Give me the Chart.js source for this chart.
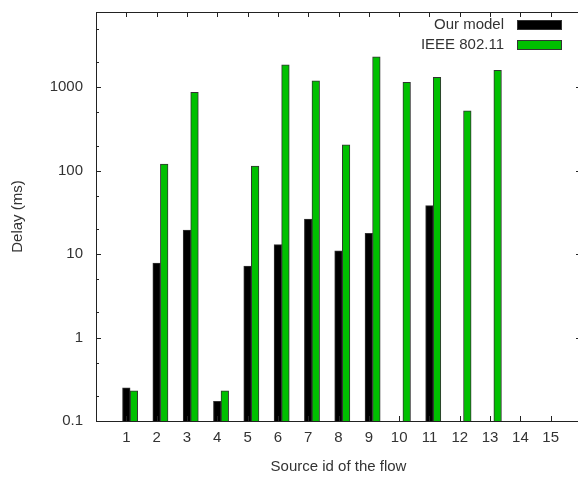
<!DOCTYPE html>
<html>
<head>
<meta charset="utf-8">
<script src="https://cdn.jsdelivr.net/npm/chart.js@4"></script>
<style>
  html, body { margin: 0; padding: 0; background: #fff; overflow: hidden; }
  #wrap { width: 590px; height: 478px; position: relative; }
</style>
</head>
<body>
<div id="wrap"><canvas id="delay-graph"></canvas></div>
<script>
// source ids on the x axis
const categories = [1, 2, 3, 4, 5, 6, 7, 8, 9, 10, 11, 12, 13, 14, 15];
// delay values (ms), null = no bar
const ourModel = [0.25, 7.8, 19.5, 0.172, 7.2, 13.0, 26.4, 11.0, 17.8, null, 38.2, null, null, null, null];
const ieee = [0.23, 120, 873, 0.23, 114, 1857, 1193, 205, 2315, 1151, 1321, 521, 1604, null, null];
const seriesNames = ['Our model', 'IEEE 802.11'];
const yTicks = [0.1, 1, 10, 100, 1000];
const yMinorTicks = [0.2, 0.5, 2, 5, 20, 50, 200, 500, 2000, 5000];

const FONT = 'Liberation Sans, Arial, sans-serif';
const TEXT = '#333';
const GREEN = '#00c000';
const EDGE = '#333';

// frame, inward ticks and legend, gnuplot style
const framePlugin = {
    id: 'frame',
    afterDraw(chart) {
        const ctx = chart.ctx;
        const {left, right, top, bottom} = chart.chartArea;
        const x = chart.scales.x, y = chart.scales.y;
        ctx.save();
        ctx.strokeStyle = '#222';
        ctx.lineWidth = 1;
        ctx.strokeRect(Math.round(left) + 0.5, Math.round(top) + 0.5, Math.round(right - left), Math.round(bottom - top));
        ctx.beginPath();
        categories.forEach(c => {
            const px = Math.round(x.getPixelForValue(c)) + 0.5;
            ctx.moveTo(px, bottom); ctx.lineTo(px, bottom - 5);
            ctx.moveTo(px, top); ctx.lineTo(px, top + 5);
        });
        yTicks.forEach(v => {
            const py = Math.round(y.getPixelForValue(v)) + 0.5;
            ctx.moveTo(left, py); ctx.lineTo(left + 5, py);
            ctx.moveTo(right, py); ctx.lineTo(right - 5, py);
        });
        yMinorTicks.forEach(v => {
            const py = Math.round(y.getPixelForValue(v)) + 0.5;
            ctx.moveTo(left, py); ctx.lineTo(left + 3, py);
            ctx.moveTo(right, py); ctx.lineTo(right - 3, py);
        });
        ctx.stroke();

        // legend, text on the left of the key
        ctx.font = '15px ' + FONT;
        ctx.textAlign = 'right';
        ctx.textBaseline = 'middle';
        chart.data.datasets.forEach((ds, i) => {
            const cy = 25 + i * 20;
            ctx.fillStyle = TEXT;
            ctx.fillText(ds.label, 504, cy);
            ctx.fillStyle = ds.backgroundColor;
            ctx.fillRect(518, cy - 4, 43, 8);
            ctx.strokeStyle = EDGE;
            ctx.strokeRect(517.5, cy - 4.5, 44, 9);
        });
        ctx.restore();
    }
};

const ctx = document.getElementById('delay-graph').getContext('2d');
new Chart(ctx, {
    type: 'bar',
    data: {
        datasets: [{
            label: seriesNames[0],
            data: categories.map((c, i) => ({x: c, y: ourModel[i]})),
            backgroundColor: '#000',
            borderColor: EDGE,
            borderWidth: 1,
        }, {
            label: seriesNames[1],
            data: categories.map((c, i) => ({x: c + 0.25, y: ieee[i]})),
            backgroundColor: GREEN,
            borderColor: EDGE,
            borderWidth: 1,
        }]
    },
    options: {
        responsive: true,
        maintainAspectRatio: false,
        animation: false,
        grouped: false,
        barThickness: 7.6,
        layout: { padding: { left: 0, top: 12, right: 9, bottom: 0 } },
        plugins: {
            legend: { display: false },
            tooltip: { enabled: false },
        },
        scales: {
            x: {
                type: 'linear',
                offset: false,
                min: 0,
                max: 16,
                grid: { display: false, drawTicks: false, offset: false },
                border: { display: false },
                afterBuildTicks: s => { s.ticks = categories.map(v => ({value: v})); },
                afterFit: s => { s.height = 57; s.paddingLeft = 0; s.paddingRight = 0; },
                ticks: {
                    padding: 8,
                    color: TEXT,
                    maxRotation: 0,
                    font: { family: FONT, size: 15 },
                    callback: v => String(v),
                },
                title: {
                    display: true,
                    text: 'Source id of the flow',
                    color: TEXT,
                    font: { family: FONT, size: 15 },
                    padding: { top: 0, bottom: 2 },
                }
            },
            y: {
                type: 'logarithmic',
                min: 0.1,
                max: 8000,
                grid: { display: false, drawTicks: false },
                border: { display: false },
                afterBuildTicks: s => { s.ticks = yTicks.map(v => ({value: v})); },
                afterFit: s => { s.width = 96; s.paddingTop = 0; s.paddingBottom = 0; },
                ticks: {
                    padding: 13,
                    color: TEXT,
                    font: { family: FONT, size: 15 },
                    callback: v => String(v),
                },
                title: {
                    display: true,
                    text: 'Delay (ms)',
                    color: TEXT,
                    font: { family: FONT, size: 15 },
                    padding: { top: 9, bottom: 0 },
                }
            }
        }
    },
    plugins: [framePlugin]
});
</script>
</body>
</html>
